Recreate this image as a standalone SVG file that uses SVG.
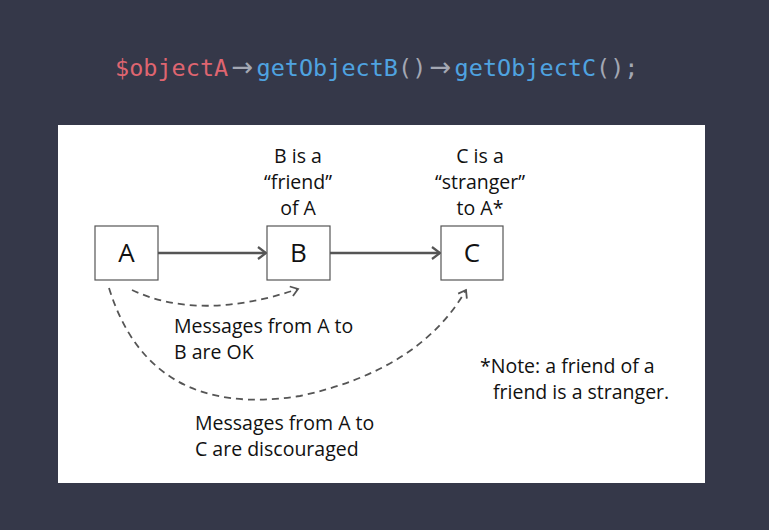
<svg xmlns="http://www.w3.org/2000/svg" width="769" height="530" viewBox="0 0 769 530">
<defs>
<style>
.code{font-family:"DejaVu Sans Mono","Liberation Mono",monospace;font-size:23.5px}
.arr{font-family:"DejaVu Sans","Liberation Sans",sans-serif;font-size:26px;fill:#a3a7b3;text-anchor:middle}
.t{font-family:"Open Sans","Noto Sans","Liberation Sans",sans-serif;font-size:19.5px;fill:#111}
.lbl{font-family:"Open Sans","Noto Sans","Liberation Sans",sans-serif;font-size:26px;fill:#111;text-anchor:middle}
.box{fill:#fff;stroke:#555;stroke-width:1.2}
.solid{fill:none;stroke:#555;stroke-width:2.5}
.dash{fill:none;stroke:#555;stroke-width:1.8;stroke-dasharray:7 5}
</style>
<marker id="ah" markerWidth="14" markerHeight="14" refX="10" refY="7" orient="auto" markerUnits="userSpaceOnUse">
<path d="M2,1 L10,7 L2,13" fill="none" stroke="#555" stroke-width="2.2"/>
</marker>
<marker id="ahd" markerWidth="14" markerHeight="14" refX="10" refY="7" orient="auto" markerUnits="userSpaceOnUse">
<path d="M3,2 L10,7 L3,12" fill="none" stroke="#555" stroke-width="1.8"/>
</marker>
</defs>
<rect x="0" y="0" width="769" height="530" fill="#353849"/>
<g id="code">
<text class="code" x="115" y="76" fill="#df6570">$objectA</text>
<text class="arr" x="242.4" y="76">→</text>
<text class="code" x="256.5" y="76"><tspan fill="#4fa3e0">getObjectB</tspan><tspan fill="#a3a7b3">()</tspan></text>
<text class="arr" x="440.4" y="76">→</text>
<text class="code" x="454.6" y="76"><tspan fill="#4fa3e0">getObjectC</tspan><tspan fill="#a3a7b3">();</tspan></text>
</g>
<rect x="58" y="125" width="647" height="358" fill="#fff"/>
<g id="connectors">
<line class="solid" x1="158" y1="253" x2="266" y2="253" marker-end="url(#ah)"/>
<line class="solid" x1="330" y1="253" x2="440" y2="253" marker-end="url(#ah)"/>
<path class="dash" d="M132,290 Q200,322 298,289" marker-end="url(#ahd)"/>
<path class="dash" d="M109,288 Q150,420 300,396 Q420,370 466,290" marker-end="url(#ahd)"/>
</g>
<g id="nodeA"><rect class="box" x="95" y="226" width="63" height="54"/><text class="lbl" x="126.5" y="262">A</text></g>
<g id="nodeB"><rect class="box" x="267" y="226" width="63" height="54"/><text class="lbl" x="298.5" y="262">B</text></g>
<g id="nodeC"><rect class="box" x="441" y="226" width="62" height="54"/><text class="lbl" x="472" y="262">C</text></g>
<g id="labelB" class="t" text-anchor="middle">
<text x="298" y="163">B is a</text>
<text x="298" y="189">“friend”</text>
<text x="298" y="215">of A</text>
</g>
<g id="labelC" class="t" text-anchor="middle">
<text x="480" y="163">C is a</text>
<text x="480" y="189">“stranger”</text>
<text x="480" y="215">to A*</text>
</g>
<g id="msgAB" class="t">
<text x="174" y="333">Messages from A to</text>
<text x="174" y="359">B are OK</text>
</g>
<g id="msgAC" class="t">
<text x="195" y="430">Messages from A to</text>
<text x="195" y="456">C are discouraged</text>
</g>
<g id="note" class="t">
<text x="480" y="373">*Note: a friend of a</text>
<text x="493" y="399">friend is a stranger.</text>
</g>
</svg>
